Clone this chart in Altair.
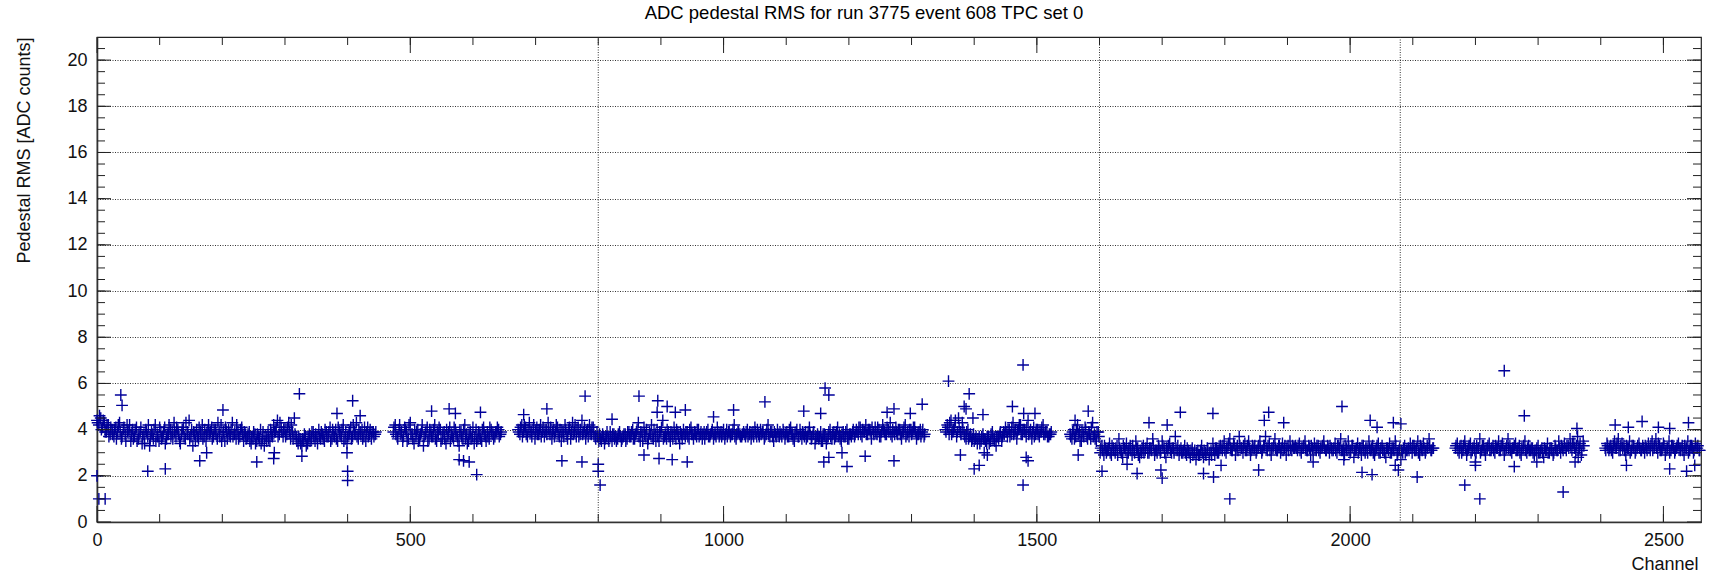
import altair as alt
import pandas as pd

TITLE = "ADC pedestal RMS for run 3775 event 608 TPC set 0"
X_TITLE = "Channel"
Y_TITLE = "Pedestal RMS [ADC counts]"

# channel blocks that carry data (first channel of each block); readings every 3 channels,
# a second interleaved set starts one channel later
seg_starts = [0, 473, 672, 1354, 1553, 2168, 2407]
seg_step = 3

seg1_rms = [
    4.4, 4.2, 4.5, 4.1, 4.3, 3.9, 4.2, 3.8, 4.0, 3.7, 4.1, 3.9, 4.3, 3.6, 4.0, 3.8, 4.2, 3.9, 3.5, 4.0,
    3.7, 4.1, 3.6, 3.9, 3.4, 3.8, 4.0, 3.7, 3.3, 3.9, 3.6, 4.2, 3.8, 3.5, 3.9, 3.7, 4.1, 3.6, 3.8, 4.0,
    3.9, 4.3, 3.7, 4.0, 3.5, 3.8, 4.1, 3.6, 3.9, 4.4, 3.7, 3.3, 3.8, 4.0, 3.6, 3.9, 4.2, 3.7, 3.5, 3.9,
    3.8, 4.1, 3.7, 4.0, 3.6, 3.9, 4.2, 3.8, 3.5, 3.9, 4.0, 3.7, 4.3, 3.8, 3.6, 3.9, 3.7, 4.1, 3.5, 3.8,
    3.7, 3.9, 3.4, 3.6, 3.8, 3.5, 3.7, 4.0, 3.6, 3.3, 3.7, 3.9, 3.5, 3.8, 4.2, 3.9, 4.4, 3.8, 4.1, 3.7,
    4.0, 3.8, 4.3, 3.6, 3.9, 4.5, 3.7, 3.4, 3.6, 3.3, 3.5, 3.7, 3.4, 3.8, 3.6, 3.9, 3.5, 3.7, 4.0, 3.6,
    3.8, 3.5, 3.9, 3.7, 4.1, 3.6, 3.8, 4.0, 3.5, 3.9, 3.7, 4.2, 3.6, 3.4, 3.8, 4.1, 3.7, 3.9, 4.3, 3.6,
    3.9, 4.0, 3.7, 3.5, 4.1, 3.8, 3.6, 3.9, 3.8,
]
seg1_rms_b = [
    4.3, 4.6, 4.0, 4.4, 3.9, 4.2, 3.7, 4.1, 3.8, 4.0, 3.6, 4.2, 3.9, 3.7, 4.1, 3.5, 3.9, 4.2, 3.8, 3.6,
    4.0, 3.5, 3.8, 4.1, 3.7, 3.4, 3.9, 4.2, 3.6, 3.8, 4.0, 3.5, 3.7, 4.1, 3.6, 3.9, 3.4, 3.8, 4.2, 3.7,
    3.6, 3.9, 4.1, 3.8, 3.4, 4.0, 3.7, 4.3, 3.8, 3.6, 4.0, 3.9, 3.5, 3.7, 4.1, 3.8, 3.6, 4.0, 3.8, 4.2,
    3.9, 3.6, 4.0, 3.8, 4.3, 3.7, 3.5, 3.9, 4.1, 3.6, 3.8, 4.0, 3.7, 3.9, 4.2, 3.6, 4.0, 3.8, 3.9, 3.6,
    3.8, 3.5, 3.7, 3.9, 3.4, 3.8, 3.6, 3.4, 3.9, 3.7, 3.5, 3.6, 4.0, 3.7, 3.9, 4.1, 3.7, 4.3, 3.9, 4.0,
    3.7, 4.1, 3.9, 4.2, 3.6, 3.8, 3.5, 3.7, 3.4, 3.6, 3.8, 3.3, 3.6, 3.5, 3.9, 3.7, 3.8, 3.4, 3.7, 3.9,
    3.6, 4.0, 3.7, 3.9, 3.5, 4.0, 3.7, 3.6, 4.1, 3.8, 4.0, 3.5, 3.9, 3.7, 3.9, 3.6, 4.2, 3.8, 3.7, 4.0,
    3.8, 3.6, 4.1, 3.9, 3.7, 4.0, 3.9, 3.7, 3.9,
]
seg2_rms = [
    3.9, 4.2, 3.7, 4.0, 3.8, 3.5, 4.1, 3.9, 3.6, 4.3, 3.8, 3.4, 3.7, 4.0, 3.6, 3.9, 3.3, 3.8, 4.1, 3.6,
    3.9, 3.7, 4.2, 3.5, 3.8, 4.0, 3.6, 3.9, 3.4, 3.7, 4.1, 3.8, 3.6, 4.0, 3.7, 3.3, 3.9, 3.6, 4.2, 3.8,
    3.5, 3.9, 3.7, 3.4, 4.0, 3.6, 3.8, 3.5, 4.1, 3.7, 3.9, 3.6, 4.0, 3.8, 3.7, 3.9, 4.0, 3.8,
]
seg2_rms_b = [
    4.1, 3.8, 3.6, 4.2, 3.9, 3.7, 4.0, 3.5, 4.2, 3.8, 3.6, 4.0, 3.9, 3.5, 3.8, 4.2, 3.7, 3.9, 3.5, 4.0,
    3.7, 4.0, 3.6, 3.9, 4.1, 3.5, 3.8, 3.6, 4.0, 3.9, 3.5, 3.7, 4.1, 3.8, 3.5, 3.9, 3.7, 4.0, 3.6, 3.4,
    3.8, 3.6, 4.1, 3.7, 3.5, 3.9, 3.6, 4.0, 3.8, 3.5, 3.7, 4.1, 3.9, 3.6, 3.9, 4.1, 3.7, 3.9,
]
seg3_rms = [
    4.0, 3.8, 4.2, 3.9, 4.1, 3.7, 4.3, 3.9, 4.0, 3.6, 4.1, 3.8, 4.2, 3.9, 3.7, 4.0, 4.3, 3.8, 3.6, 4.0,
    3.9, 4.1, 3.7, 3.5, 3.9, 4.2, 3.8, 4.0, 3.6, 4.3, 3.9, 3.7, 4.1, 3.8, 4.4, 3.9, 3.6, 4.0, 4.2, 3.8,
    4.1, 3.7, 3.9, 3.5, 3.6, 3.8, 3.4, 3.7, 3.6, 3.9, 3.5, 3.8, 3.7, 3.6, 3.9, 3.5, 3.7, 3.8, 3.6, 3.9,
    3.7, 4.0, 3.6, 3.9, 4.3, 3.5, 3.8, 4.1, 3.7, 3.4, 3.9, 4.2, 3.6, 3.8, 4.0, 3.5, 3.9, 4.4, 3.7, 3.6,
    3.9, 3.5, 3.8, 4.1, 3.6, 3.9, 3.4, 3.8, 4.0, 3.7, 3.9, 3.6, 4.1, 3.8, 3.9, 3.7, 4.0, 3.8, 3.6, 3.9,
    3.8, 4.0, 3.7, 3.9, 3.6, 3.8, 4.1, 3.7, 3.9, 3.8, 3.6, 4.0, 3.9, 3.7, 3.8, 4.2, 3.6, 3.9, 3.8, 3.7,
    3.9, 3.7, 4.0, 3.8, 3.6, 3.9, 4.1, 3.7, 3.8, 4.0, 3.9, 3.6, 3.8, 4.2, 3.7, 3.9, 3.5, 3.8, 4.0, 3.7,
    3.8, 4.0, 3.6, 3.9, 3.7, 4.1, 3.8, 3.5, 3.9, 3.7, 4.0, 3.6, 3.8, 3.9, 3.7, 4.1, 3.6, 3.8, 3.4, 3.7,
    3.6, 3.9, 3.5, 3.8, 3.4, 3.7, 4.0, 3.6, 3.9, 3.7, 4.1, 3.8, 3.5, 3.9, 3.7, 4.0, 3.6, 3.8, 3.9, 3.7,
    4.0, 3.8, 4.1, 3.7, 3.9, 4.2, 3.8, 4.0, 3.6, 3.9, 4.1, 3.8, 4.0, 3.7, 4.2, 3.9, 3.8, 4.0, 4.3, 3.7,
    3.9, 4.1, 3.8, 4.0, 3.6, 3.9, 4.2, 3.8, 3.7, 4.0, 3.9, 4.1, 3.6, 3.8, 4.0, 3.9, 3.7,
]
seg3_rms_b = [
    3.9, 4.1, 3.7, 4.2, 3.8, 4.0, 3.9, 3.7, 4.2, 3.9, 3.8, 4.0, 3.7, 4.1, 3.9, 3.8, 4.0, 4.1, 3.9, 3.7,
    4.2, 3.8, 4.0, 3.9, 3.7, 4.0, 3.6, 4.1, 3.9, 3.8, 4.2, 4.0, 3.7, 4.0, 3.8, 4.1, 3.9, 3.7, 3.9, 4.1,
    3.8, 3.6, 3.7, 3.8, 3.5, 3.7, 3.6, 3.9, 3.5, 3.7, 3.8, 3.6, 3.5, 3.8, 3.7, 3.6, 3.8, 3.5, 3.9, 3.7,
    3.9, 3.6, 3.8, 4.0, 3.7, 3.9, 3.5, 3.8, 4.0, 3.6, 3.8, 3.7, 4.0, 3.5, 3.7, 3.9, 4.1, 3.6, 3.8, 4.0,
    3.7, 3.9, 3.6, 3.8, 4.0, 3.7, 3.9, 3.6, 3.8, 3.9, 3.7, 4.0, 3.8, 3.6, 3.8, 4.0, 3.7, 3.9, 3.8, 3.6,
    3.9, 3.7, 3.8, 4.0, 3.8, 3.7, 3.9, 3.8, 3.7, 4.0, 3.8, 3.7, 3.9, 3.8, 4.0, 3.7, 3.8, 3.9, 3.7, 3.8,
    3.8, 3.9, 3.7, 3.9, 3.8, 3.7, 3.9, 4.0, 3.7, 3.8, 3.9, 3.7, 4.0, 3.8, 3.9, 3.7, 3.9, 3.7, 3.8, 3.9,
    3.7, 3.9, 3.8, 3.7, 4.0, 3.8, 3.6, 3.8, 4.0, 3.7, 3.8, 3.9, 3.7, 3.6, 3.9, 3.8, 3.7, 3.9, 3.6, 3.8,
    3.7, 3.5, 3.8, 3.7, 3.6, 3.9, 3.7, 3.8, 3.6, 3.9, 3.7, 3.6, 3.8, 3.7, 3.9, 3.6, 3.8, 3.7, 4.0, 3.8,
    3.9, 4.1, 3.8, 4.0, 3.9, 3.8, 4.0, 3.9, 4.1, 3.8, 3.9, 4.1, 3.7, 3.9, 4.0, 3.8, 4.1, 3.9, 3.8, 4.0,
    3.8, 3.9, 4.0, 3.8, 3.9, 4.1, 3.7, 3.9, 4.0, 3.8, 4.1, 3.9, 3.8, 3.9, 3.7, 4.0, 3.8,
]
seg4_rms = [
    4.0, 4.2, 3.8, 4.4, 3.9, 4.1, 3.7, 4.5, 3.9, 4.3, 3.8, 3.6, 4.0, 3.7, 3.5, 3.8, 3.6, 3.4, 3.7, 3.5,
    3.8, 3.6, 3.4, 3.7, 3.5, 3.9, 3.6, 3.3, 3.7, 3.8, 3.5, 3.9, 4.1, 3.7, 4.0, 3.8, 4.3, 3.9, 3.6, 4.0,
    4.2, 3.8, 4.0, 3.7, 4.4, 3.9, 3.6, 4.1, 3.8, 4.0, 3.7, 3.9, 4.2, 3.8, 3.9, 3.7, 3.8,
]
seg4_rms_b = [
    3.9, 4.1, 4.3, 3.8, 4.0, 4.4, 3.9, 4.1, 3.8, 4.0, 3.7, 3.9, 3.6, 3.8, 3.6, 3.5, 3.7, 3.6, 3.4, 3.7,
    3.6, 3.5, 3.7, 3.4, 3.8, 3.6, 3.5, 3.7, 3.6, 3.9, 3.7, 3.8, 3.9, 4.0, 3.7, 4.1, 3.8, 4.0, 3.9, 4.2,
    3.8, 4.0, 3.9, 4.1, 3.8, 4.0, 3.9, 3.7, 4.0, 3.8, 3.9, 4.1, 3.8, 3.9, 3.7, 3.8, 3.9,
]
seg5_rms = [
    3.8, 3.6, 4.0, 3.7, 4.2, 3.9, 3.5, 3.8, 4.1, 3.7, 3.9, 3.6, 4.3, 3.8, 3.5, 3.9, 3.0, 3.3, 2.9, 3.2,
    3.1, 3.4, 2.9, 3.2, 3.0, 3.3, 3.6, 3.1, 2.8, 3.2, 3.4, 3.0, 3.3, 2.9, 3.1, 3.5, 3.2, 2.8, 3.0, 3.3,
    3.1, 3.4, 3.0, 3.2, 3.6, 2.9, 3.1, 3.3, 3.0, 3.5, 3.2, 2.8, 3.1, 3.4, 3.0, 3.2, 3.7, 3.1, 2.9, 3.2,
    3.0, 3.3, 2.9, 3.1, 2.8, 3.2, 3.0, 2.7, 3.1, 2.9, 3.3, 2.8, 3.0, 3.2, 2.7, 3.1, 3.4, 2.9, 3.2, 3.0,
    3.3, 3.1, 3.5, 3.0, 3.2, 3.6, 3.1, 3.4, 2.9, 3.3, 3.7, 3.2, 3.0, 3.4, 3.1, 3.5, 2.9, 3.3, 3.2, 3.0,
    3.2, 3.5, 3.0, 3.3, 3.7, 3.1, 3.4, 2.9, 3.2, 3.6, 3.1, 3.3, 3.0, 3.4, 3.2, 2.9, 3.3, 3.5, 3.1, 3.2,
    3.3, 3.1, 3.4, 3.0, 3.2, 3.5, 3.1, 3.3, 2.9, 3.2, 3.4, 3.1, 3.3, 3.0, 3.2, 3.5, 3.1, 3.3, 3.0, 3.2,
    3.1, 3.4, 3.0, 3.3, 3.6, 3.1, 2.9, 3.2, 3.5, 3.0, 3.3, 2.8, 3.1, 3.4, 3.2, 2.9, 3.3, 3.0, 3.2, 3.5,
    3.1, 3.3, 2.9, 3.2, 3.4, 3.0, 3.3, 3.1, 2.8, 3.2, 3.4, 3.0, 3.2, 3.5, 2.9, 3.1, 2.7, 3.0, 3.3, 3.1,
    3.2, 3.4, 3.0, 3.3, 3.1, 3.5, 2.9, 3.2, 3.4, 3.0, 3.3, 3.6, 3.1, 3.2,
]
seg5_rms_b = [
    3.7, 3.9, 3.6, 4.0, 3.8, 3.5, 3.9, 3.7, 4.0, 3.6, 3.8, 4.1, 3.7, 3.6, 3.9, 3.7, 3.2, 3.1, 3.3, 3.0,
    3.2, 3.0, 3.3, 3.1, 3.2, 2.9, 3.2, 3.0, 3.3, 3.1, 3.0, 3.2, 3.1, 3.3, 3.0, 3.2, 2.9, 3.1, 3.2, 3.0,
    3.2, 3.0, 3.2, 3.1, 3.3, 3.1, 3.0, 3.2, 3.1, 3.3, 3.0, 3.2, 3.3, 3.1, 3.2, 3.0, 3.2, 3.3, 3.1, 3.0,
    3.1, 3.0, 3.2, 3.0, 3.1, 2.9, 3.1, 3.0, 2.9, 3.1, 3.0, 3.1, 2.9, 3.1, 3.0, 2.9, 3.1, 3.2, 3.0, 3.2,
    3.2, 3.3, 3.1, 3.2, 3.4, 3.2, 3.1, 3.3, 3.2, 3.1, 3.3, 3.2, 3.3, 3.1, 3.3, 3.2, 3.1, 3.2, 3.3, 3.1,
    3.3, 3.2, 3.1, 3.3, 3.2, 3.3, 3.1, 3.2, 3.3, 3.2, 3.1, 3.3, 3.2, 3.1, 3.3, 3.2, 3.1, 3.2, 3.3, 3.2,
    3.2, 3.3, 3.1, 3.2, 3.3, 3.2, 3.1, 3.2, 3.3, 3.1, 3.2, 3.3, 3.1, 3.2, 3.3, 3.2, 3.1, 3.2, 3.3, 3.1,
    3.2, 3.1, 3.3, 3.2, 3.1, 3.2, 3.3, 3.1, 3.2, 3.1, 3.3, 3.1, 3.2, 3.0, 3.2, 3.3, 3.1, 3.2, 3.0, 3.2,
    3.2, 3.0, 3.1, 3.3, 3.0, 3.2, 3.1, 3.0, 3.2, 3.1, 3.0, 3.2, 3.1, 3.3, 3.0, 3.2, 3.1, 3.2, 3.0, 3.1,
    3.1, 3.2, 3.3, 3.1, 3.2, 3.0, 3.3, 3.1, 3.2, 3.1, 3.2, 3.3, 3.1, 3.2,
]
seg6_rms = [
    3.2, 3.4, 3.0, 3.3, 3.1, 3.5, 2.9, 3.2, 3.4, 3.1, 3.3, 3.0, 3.2, 3.6, 3.1, 3.3, 2.9, 3.2, 3.4, 3.1,
    3.3, 3.0, 3.2, 3.5, 3.1, 3.4, 2.9, 3.2, 3.6, 3.3, 3.0, 3.2, 3.4, 3.1, 3.3, 2.9, 3.2, 3.5, 3.0, 3.3,
    3.1, 3.2, 2.9, 3.1, 3.3, 3.0, 3.2, 2.8, 3.1, 3.4, 3.0, 3.2, 2.9, 3.3, 3.1, 3.5, 3.0, 3.2, 3.4, 3.1,
    3.3, 3.6, 3.1, 3.4, 3.0, 3.7, 3.2, 2.9, 3.5,
]
seg6_rms_b = [
    3.3, 3.1, 3.2, 3.0, 3.3, 3.2, 3.1, 3.3, 3.0, 3.2, 3.1, 3.3, 3.2, 3.0, 3.3, 3.1, 3.2, 3.3, 3.1, 3.2,
    3.1, 3.3, 3.2, 3.1, 3.3, 3.2, 3.1, 3.3, 3.2, 3.1, 3.2, 3.3, 3.1, 3.2, 3.0, 3.2, 3.3, 3.1, 3.2, 3.1,
    3.2, 3.0, 3.1, 3.2, 3.0, 3.1, 3.0, 3.2, 3.1, 3.0, 3.2, 3.1, 3.0, 3.2, 3.1, 3.2, 3.3, 3.1, 3.2, 3.3,
    3.2, 3.3, 3.4, 3.2, 3.3, 3.2, 3.4, 3.1, 3.3,
]
seg7_rms = [
    3.2, 3.4, 3.1, 3.3, 3.0, 3.5, 3.2, 3.6, 3.1, 3.4, 3.3, 2.9, 3.2, 3.5, 3.1, 3.3, 3.0, 3.2, 3.4, 3.1,
    3.3, 3.0, 3.2, 3.4, 3.1, 3.5, 3.2, 3.6, 3.0, 3.3, 3.1, 3.4, 2.9, 3.2, 3.5, 3.1, 3.3, 3.0, 3.2, 3.4,
    3.1, 3.3, 2.9, 3.2, 3.5, 3.1, 3.3, 3.0, 3.4, 3.2, 3.1,
]
seg7_rms_b = [
    3.1, 3.3, 3.2, 3.1, 3.3, 3.2, 3.4, 3.1, 3.3, 3.2, 3.1, 3.3, 3.2, 3.0, 3.3, 3.2, 3.1, 3.3, 3.2, 3.1,
    3.2, 3.3, 3.1, 3.2, 3.3, 3.1, 3.3, 3.2, 3.4, 3.1, 3.2, 3.3, 3.1, 3.2, 3.0, 3.3, 3.2, 3.1, 3.3, 3.2,
    3.2, 3.1, 3.3, 3.2, 3.0, 3.3, 3.2, 3.1, 3.2, 3.3, 3.1,
]
segments = [seg1_rms, seg2_rms, seg3_rms, seg4_rms, seg5_rms, seg6_rms, seg7_rms]
segments_b = [seg1_rms_b, seg2_rms_b, seg3_rms_b, seg4_rms_b, seg5_rms_b, seg6_rms_b, seg7_rms_b]

# isolated channels away from the band
outlier_channel = [
    0, 3, 13, 38, 40, 81, 109, 164, 175, 201, 255, 282, 283, 323, 327, 383, 399, 400, 400, 408, 420,
    534, 562, 572, 578, 585, 594, 606, 612,
    681, 718, 742, 774, 779, 800, 800, 803, 822, 865, 873, 894, 895, 897, 910, 918, 923, 939, 942,
    984, 1016, 1066, 1128, 1155, 1160, 1162, 1168, 1168, 1189, 1197, 1226, 1261, 1272, 1272, 1298, 1317,
    1359, 1378, 1384, 1387, 1392, 1398, 1400, 1408, 1414, 1416, 1421, 1461, 1478, 1478, 1479, 1483, 1486, 1497,
    1561, 1566, 1582, 1604, 1644, 1660, 1679, 1698, 1700, 1708, 1729, 1766, 1781, 1782, 1794, 1808,
    1854, 1863, 1870, 1894, 1941, 1987, 1990, 2019, 2032, 2035, 2043, 2069, 2072, 2077, 2081, 2107,
    2183, 2200, 2200, 2207, 2246, 2262, 2278, 2298, 2340, 2359, 2362, 2364,
    2423, 2441, 2444, 2466, 2492, 2510, 2510, 2537, 2540, 2550,
]
outlier_rms = [
    2.0, 1.0, 1.0, 5.5, 5.05, 2.2, 2.3, 2.65, 3.0, 4.85, 2.6, 2.75, 3.0, 5.55, 2.85, 4.7, 3.0, 2.2, 1.8, 5.25, 4.6,
    4.8, 4.9, 4.7, 2.7, 2.65, 2.6, 2.05, 4.75,
    4.65, 4.9, 2.65, 2.6, 5.45, 2.5, 2.2, 1.6, 4.45, 5.45, 2.9, 4.75, 5.25, 2.75, 5.0, 2.7, 4.75, 4.85, 2.6,
    4.55, 4.85, 5.2, 4.8, 4.7, 2.6, 5.8, 5.5, 2.8, 3.0, 2.4, 2.85, 4.75, 4.9, 2.65, 4.7, 5.1,
    6.1, 2.9, 5.0, 4.9, 5.55, 4.5, 2.3, 2.45, 4.65, 3.0, 2.9, 5.0, 6.8, 1.6, 4.7, 2.8, 2.65, 4.7,
    4.4, 2.9, 4.8, 2.2, 2.5, 2.1, 4.3, 2.25, 1.9, 4.2, 4.75, 2.1, 4.7, 1.95, 2.45, 1.0,
    2.25, 4.4, 4.75, 4.3, 2.6, 5.0, 2.7, 2.15, 4.4, 2.05, 4.1, 4.3, 2.45, 2.25, 4.25, 1.95,
    1.6, 2.6, 2.45, 1.0, 6.55, 2.4, 4.6, 2.6, 1.3, 2.6, 4.05, 2.8,
    4.2, 2.45, 4.1, 4.35, 4.1, 4.05, 2.3, 2.2, 4.3, 2.45,
]

# axis ticks / reference lines
x_labels = [0, 500, 1000, 1500, 2000, 2500]
x_minor = list(range(100, 2560, 100))
y_labels = [0, 2, 4, 6, 8, 10, 12, 14, 16, 18, 20]
y_minor = [v / 2 for v in range(1, 42)]
plane_bounds = [800, 1600, 2080]

rows = []
for offset, segs in ((0, segments), (1, segments_b)):
    for start, vals in zip(seg_starts, segs):
        for i, v in enumerate(vals):
            rows.append({"channel": start + offset + seg_step * i, "rms": v})
for c, v in zip(outlier_channel, outlier_rms):
    rows.append({"channel": c, "rms": v})
df = pd.DataFrame(rows)

W, H = 1604, 485
FONT = "Liberation Sans"
xs = alt.Scale(domain=[0, 2560], nice=False, zero=False)
ys = alt.Scale(domain=[0, 21], nice=False, zero=False)

x_axis = alt.Axis(
    values=x_labels, format="d", title=X_TITLE, grid=False, ticks=False, labelFlush=False,
    labelPadding=9, titleAlign="right", titleX=W - 3, titleY=47,
    titleBaseline="alphabetic", titleAnchor="end")
y_axis = alt.Axis(
    values=y_labels, format="d", title=Y_TITLE, grid=True, ticks=False, labelPadding=10,
    titleAngle=270, titleAlign="right", titleX=-68, titleY=0,
    titleBaseline="alphabetic", titleAnchor="end")

pts = alt.Chart(df).mark_point(
    shape="M-1,0H1M0,-1V1", size=140, filled=False, color="#000099",
    strokeWidth=1.4, opacity=1,
).encode(
    x=alt.X("channel:Q", scale=xs, axis=x_axis),
    y=alt.Y("rms:Q", scale=ys, axis=y_axis),
)

planes = alt.Chart(pd.DataFrame({"c": plane_bounds})).mark_rule(
    color="#333", strokeWidth=1, strokeDash=[1, 1.5]
).encode(x=alt.X("c:Q", scale=xs, axis=x_axis))

def xticks(vals, length):
    d = pd.DataFrame({"t": vals})
    bottom = alt.Chart(d).mark_rule(color="#222", strokeWidth=1).encode(
        x=alt.X("t:Q", scale=xs, axis=x_axis), y=alt.value(H), y2=alt.value(H - length))
    top = alt.Chart(d).mark_rule(color="#222", strokeWidth=1).encode(
        x=alt.X("t:Q", scale=xs, axis=x_axis), y=alt.value(0), y2=alt.value(length))
    return [bottom, top]

def yticks(vals, length):
    d = pd.DataFrame({"t": vals})
    left = alt.Chart(d).mark_rule(color="#222", strokeWidth=1).encode(
        y=alt.Y("t:Q", scale=ys, axis=y_axis), x=alt.value(0), x2=alt.value(length))
    right = alt.Chart(d).mark_rule(color="#222", strokeWidth=1).encode(
        y=alt.Y("t:Q", scale=ys, axis=y_axis), x=alt.value(W), x2=alt.value(W - length))
    return [left, right]

layers = [pts, planes] + xticks(x_minor, 8) + xticks(x_labels, 16) + yticks(y_minor, 8) + yticks(y_labels, 14)

chart = alt.layer(*layers).properties(
    width=W, height=H,
    autosize=alt.AutoSizeParams(type="none"),
    padding={"left": 97, "top": 37, "right": 14, "bottom": 52},
    background="white",
    title=alt.TitleParams(
        TITLE, font=FONT, fontSize=18.5, fontWeight="normal", color="black",
        anchor="middle", dx=-35, dy=18, offset=17, baseline="alphabetic"),
).configure_view(
    stroke="#222", strokeWidth=1.2
).configure_axis(
    labelFont=FONT, titleFont=FONT, labelFontSize=18, titleFontSize=18,
    labelColor="#111", titleColor="#111", titleFontWeight="normal",
    domainColor="#333", domainWidth=1.6,
    gridColor="#333", gridDash=[1, 1.5], gridWidth=1, gridOpacity=1,
)

chart.save("out.html", embed_options={"renderer": "svg", "actions": False})
